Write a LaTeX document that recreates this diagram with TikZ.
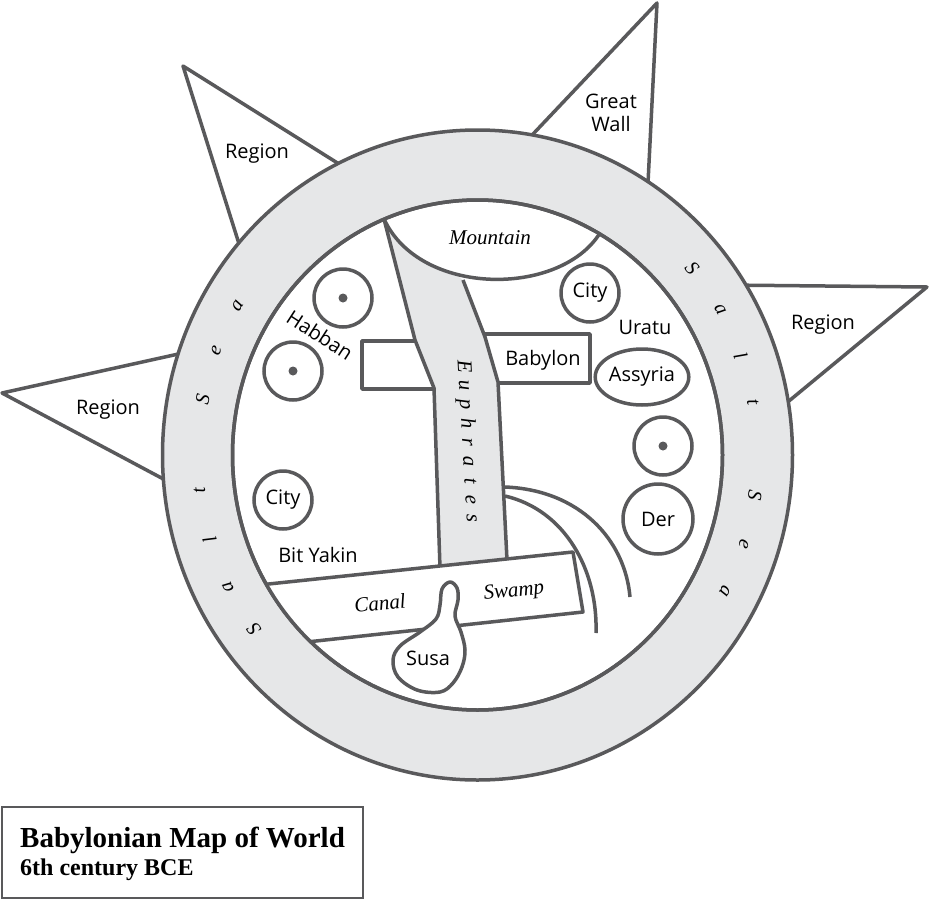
\documentclass[tikz,border=0pt]{standalone}
\usepackage{fontspec}
\setmainfont{Liberation Serif}
\setsansfont{Open Sans}
\usepackage{tikz}
\usetikzlibrary{shapes.geometric, positioning, calc}
\definecolor{mapline}{HTML}{59595B}
\definecolor{seagray}{HTML}{E6E7E8}
\tikzstyle{coast} = [draw=mapline, line width=3.5pt, line join=round]
\tikzstyle{town} = [circle, draw=mapline, line width=3.5pt, fill=white, minimum size=58pt, inner sep=0pt, font=\sffamily\fontsize{20}{24}\selectfont]
\tikzstyle{place} = [font=\sffamily\fontsize{20}{24}\selectfont, inner sep=0pt]
\tikzstyle{water} = [font=\itshape\fontsize{21}{24}\selectfont, inner sep=0pt]
\tikzstyle{sealetter} = [font=\itshape\fontsize{20}{23}\selectfont, inner sep=0pt]
\tikzstyle{caption} = [anchor=base west, inner sep=0pt]

\begin{document}
\begin{tikzpicture}[x=1pt, y=-1pt]
\useasboundingbox (0,0) rectangle (930,900);

\draw[coast, fill=white] (183,66) -- (355,174) -- (246,266) -- cycle;
\draw[coast, fill=white] (2,393) -- (201,349) -- (184,490) -- cycle;
\draw[coast, fill=white] (657,3) -- (517,151) -- (647,203) -- cycle;
\draw[coast, fill=white] (927,287) -- (724,285) -- (772,415) -- cycle;
\node[place] (region-nw) at (257,154) {Region};
\node[place] (region-w) at (108,410) {Region};
\node[place] (great) at (611,101) {Great};
\node[place, below=8pt of great] (wall) {Wall};
\node[place] (region-e) at (823,325) {Region};

\draw[coast, fill=seagray] (477.5,455) ellipse [x radius=315, y radius=325];
\draw[coast, fill=white] (477.5,455) ellipse [x radius=245, y radius=255];
\foreach \ch/\ang [count=\i] in {S/217, a/207, l/197, t/187, S/169, e/159, a/149, S/40, a/30, l/20, t/10.5, S/-8, e/-18, a/-28}
  \node[sealetter, rotate=\ang-90] (sea-\i) at ({477.5+280*cos(\ang)}, {455-290*sin(\ang)}) {\ch};

\draw[coast, fill=white] (362,341) rectangle (445,389);
\draw[coast, fill=white] (480,334) rectangle (590,383);
\node[place] (babylon) at (543,360) {Babylon};

\fill[seagray] (384,219) -- (415,340) -- (434,388) -- (440,580) -- (507,575) -- (499,388) -- (485,337) -- (463,280) -- cycle;
\fill[white] (384,219) .. controls (420,297) and (560,297) .. (600,233) -- cycle;
\draw[coast] (384,219) .. controls (420,297) and (560,297) .. (600,233);
\draw[coast] (384,219) -- (415,340) -- (434,388) -- (440,568);
\draw[coast] (463,280) -- (485,337) -- (498,382) -- (507,560);
\node[water] (mountain) at (490,238) {Mountain};
\foreach \ch [count=\i] in {E,u,p,h,r,a,t,e,s}
  \node[water, rotate=-87, anchor=base] (euph-\i) at ({456.9+1.1*\i}, {348+19*\i}) {\ch};

\begin{scope}
  \clip (477.5,455) ellipse [x radius=245, y radius=255];
  \draw[coast, fill=white] (240,587) -- (573,552) -- (583,612) -- (270,646) -- cycle;
\end{scope}
\node[water, rotate=6] (canal) at (380,603) {Canal};
\node[water, rotate=6] (swamp) at (514,592) {Swamp};

\draw[coast] (505,487) .. controls (580,490) and (625,540) .. (630,597);
\draw[coast] (505,496) .. controls (565,510) and (598,570) .. (596,633);

\draw[coast, fill=white] plot[smooth cycle, tension=0.6] coordinates {(450,582) (457,588) (458,600) (455,616) (461,632) (465,650) (462,667) (453,683) (440,692) (417,690) (398,677) (393,660) (400,646) (420,632) (436,619) (440,605) (442,589)};
\node[place] (susa) at (428,658) {Susa};

\node[town] (dot-hb-1) at (343,298) {};
\node[town] (dot-hb-2) at (293,371) {};
\node[town] (dot-e) at (663,446) {};
\fill[mapline] (dot-hb-1.center) circle (4.5);
\fill[mapline] (dot-hb-2.center) circle (4.5);
\fill[mapline] (dot-e.center) circle (4.5);
\node[place, rotate=-33] (habban) at (320,335) {Habban};
\node[town] (city-ne) at (590,293) {City};
\node[place] (uratu) at (645,327) {Uratu};
\node[town, ellipse, minimum width=82pt, minimum height=56pt] (assyria) at (642,377) {Assyria};
\node[town, minimum size=70pt] (der) at (658,519) {Der};
\node[town] (city-w) at (283,500) {City};
\node[place] (bit-yakin) at (318,555) {Bit Yakin};

\draw[coast] (477.5,455) ellipse [x radius=245, y radius=255];

\draw[draw=mapline, line width=1.5pt] (2,807) rectangle (363,898);
\node[caption, font=\bfseries\fontsize{29}{32}\selectfont] (title) at (20,847) {Babylonian Map of World};
\node[caption, font=\bfseries\fontsize{24}{28}\selectfont] (subtitle) at (20,875) {6th century BCE};
\end{tikzpicture}
\end{document}
